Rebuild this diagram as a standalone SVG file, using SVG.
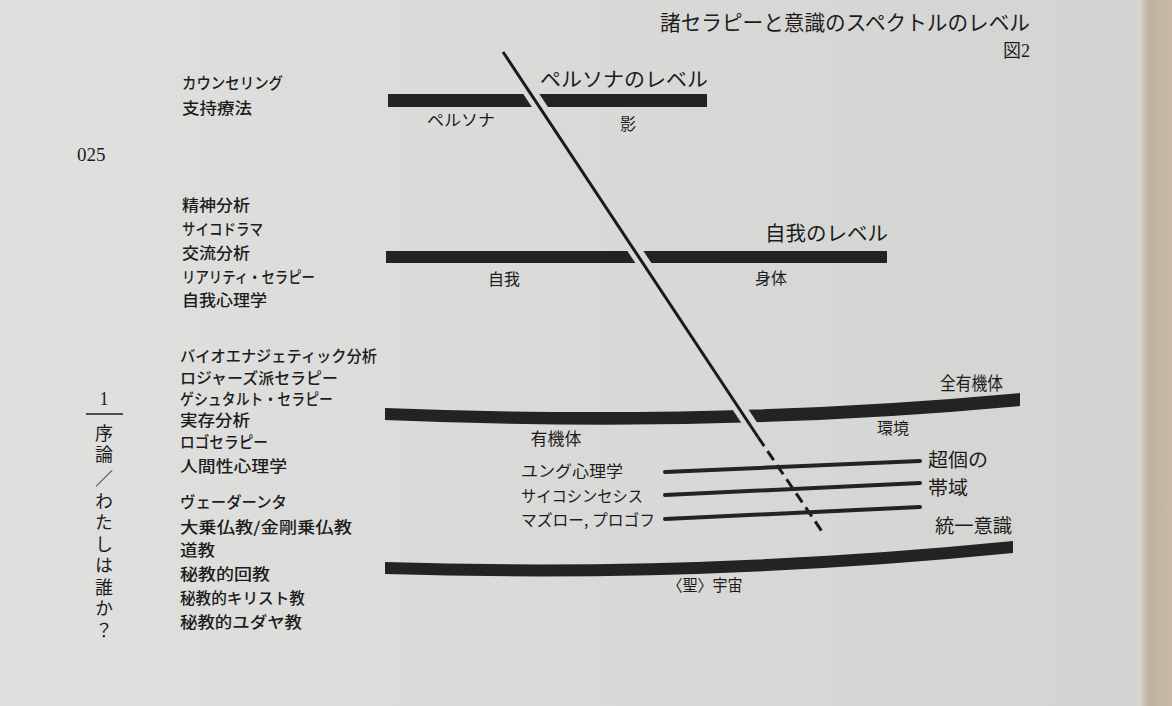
<svg xmlns="http://www.w3.org/2000/svg" width="1172" height="706" viewBox="0 0 1172 706">
<defs>
<style>
.jp{font-family:"Noto Sans CJK JP","Noto Sans",sans-serif;fill:#1c1c1c}
.lst{font-size:15.5px;font-weight:500}
.lbl{font-size:16px}
.lvl{font-size:20px}
.num{font-family:"Liberation Serif",serif;fill:#1c1c1c}
.bar{fill:#232323}
.thin{stroke:#232323;stroke-width:4;fill:none;stroke-linecap:round}
.diag{stroke:#1a1a1a;stroke-width:3;fill:none}
</style>
<linearGradient id="bg" x1="0" y1="0" x2="1" y2="0">
<stop offset="0" stop-color="#e0e0de"/>
<stop offset="0.5" stop-color="#d9d9d7"/>
<stop offset="1" stop-color="#d3d3d1"/>
</linearGradient>
<linearGradient id="edge" x1="0" y1="0" x2="1" y2="0">
<stop offset="0" stop-color="#dcdad6"/>
<stop offset="0.3" stop-color="#bfb2a2"/>
<stop offset="1" stop-color="#c9baa6"/>
</linearGradient>
<clipPath id="cL"><polygon points="0,0 461,0 929,706 0,706"/></clipPath>
<clipPath id="cR"><polygon points="477,0 1172,0 1172,706 945,706"/></clipPath>
<g id="levelBars">
<rect x="388" y="94" width="319" height="13"/>
<rect x="386" y="251" width="501" height="12"/>
<path d="M385,408 Q720,421 1020,393 L1020,406 Q720,434 385,420 Z"/>
</g>
</defs>

<rect x="0" y="0" width="1172" height="706" fill="url(#bg)"/>
<rect x="1138" y="0" width="34" height="706" fill="url(#edge)"/>

<g id="title">
<text class="jp" x="660" y="30" font-size="21" textLength="370" lengthAdjust="spacingAndGlyphs">諸セラピーと意識のスペクトルのレベル</text>
<text x="1030" y="57" text-anchor="end" font-size="18"><tspan class="jp">図</tspan><tspan class="num">2</tspan></text>
</g>

<g id="page-margin">
<text class="num" x="77" y="161" font-size="19">025</text>
<text class="num" x="104" y="405" font-size="18" text-anchor="middle">1</text>
<line x1="86" y1="414" x2="123" y2="414" stroke="#1c1c1c" stroke-width="1.5"/>
<text class="jp" x="104" y="424" font-size="18" writing-mode="vertical-rl" letter-spacing="3.5">序論</text>
<text class="jp" x="104" y="485" font-size="18" text-anchor="middle">／</text>
<text class="jp" x="104" y="492" font-size="18" writing-mode="vertical-rl" letter-spacing="3.5">わたしは誰か？</text>
</g>

<g id="therapy-list" class="jp lst">
<text x="182" y="89" textLength="101" lengthAdjust="spacingAndGlyphs">カウンセリング</text>
<text x="182" y="114" textLength="70" lengthAdjust="spacingAndGlyphs">支持療法</text>
<text x="182" y="211" textLength="68" lengthAdjust="spacingAndGlyphs">精神分析</text>
<text x="182" y="235" textLength="81" lengthAdjust="spacingAndGlyphs">サイコドラマ</text>
<text x="182" y="259" textLength="68" lengthAdjust="spacingAndGlyphs">交流分析</text>
<text x="182" y="283" textLength="133" lengthAdjust="spacingAndGlyphs">リアリティ・セラピー</text>
<text x="182" y="306" textLength="85" lengthAdjust="spacingAndGlyphs">自我心理学</text>
<text x="180" y="362" textLength="197" lengthAdjust="spacingAndGlyphs">バイオエナジェティック分析</text>
<text x="180" y="384" textLength="158" lengthAdjust="spacingAndGlyphs">ロジャーズ派セラピー</text>
<text x="180" y="405" textLength="153" lengthAdjust="spacingAndGlyphs">ゲシュタルト・セラピー</text>
<text x="180" y="426" textLength="70" lengthAdjust="spacingAndGlyphs">実存分析</text>
<text x="180" y="448" textLength="88" lengthAdjust="spacingAndGlyphs">ロゴセラピー</text>
<text x="180" y="472" textLength="107" lengthAdjust="spacingAndGlyphs">人間性心理学</text>
<text x="180" y="508" textLength="107" lengthAdjust="spacingAndGlyphs">ヴェーダーンタ</text>
<text x="180" y="533" textLength="172" lengthAdjust="spacingAndGlyphs">大乗仏教/金剛乗仏教</text>
<text x="180" y="556" textLength="35" lengthAdjust="spacingAndGlyphs">道教</text>
<text x="180" y="580" textLength="90" lengthAdjust="spacingAndGlyphs">秘教的回教</text>
<text x="180" y="604" textLength="125" lengthAdjust="spacingAndGlyphs">秘教的キリスト教</text>
<text x="180" y="628" textLength="122" lengthAdjust="spacingAndGlyphs">秘教的ユダヤ教</text>
</g>

<g id="bars-left" class="bar" clip-path="url(#cL)"><use href="#levelBars"/></g>
<g id="bars-right" class="bar" clip-path="url(#cR)"><use href="#levelBars"/></g>
<g id="bar-cosmos" class="bar">
<path d="M385,562 Q700,572 1013,541 L1013,553 Q700,584 385,574 Z"/>
</g>

<g id="connectors">
<line class="diag" x1="503" y1="52" x2="758" y2="437"/>
<line class="diag" x1="758" y1="437" x2="823" y2="533" stroke-dasharray="11 6"/>
<line class="thin" x1="665" y1="472" x2="920" y2="461"/>
<line class="thin" x1="665" y1="495" x2="920" y2="483"/>
<line class="thin" x1="665" y1="519" x2="920" y2="507"/>
</g>

<g id="persona-level" class="jp">
<text class="lvl" x="540" y="87" textLength="168" lengthAdjust="spacingAndGlyphs">ペルソナのレベル</text>
<text class="lbl" x="427" y="126" textLength="68" lengthAdjust="spacingAndGlyphs">ペルソナ</text>
<text class="lbl" x="628" y="130" text-anchor="middle">影</text>
</g>

<g id="ego-level" class="jp">
<text class="lvl" x="765" y="241" textLength="123" lengthAdjust="spacingAndGlyphs">自我のレベル</text>
<text class="lbl" x="504" y="285" text-anchor="middle">自我</text>
<text class="lbl" x="771" y="284" text-anchor="middle">身体</text>
</g>

<g id="organism-level" class="jp">
<text x="940" y="390" font-size="18" textLength="63" lengthAdjust="spacingAndGlyphs">全有機体</text>
<text x="556" y="445" font-size="17" text-anchor="middle">有機体</text>
<text class="lbl" x="893" y="434" text-anchor="middle">環境</text>
</g>

<g id="transpersonal-band" class="jp">
<text class="lbl" x="521" y="477" textLength="102" lengthAdjust="spacingAndGlyphs">ユング心理学</text>
<text class="lbl" x="521" y="502" textLength="122" lengthAdjust="spacingAndGlyphs">サイコシンセシス</text>
<text class="lbl" x="521" y="526" textLength="134" lengthAdjust="spacingAndGlyphs">マズロー, プロゴフ</text>
<text x="928" y="467" font-size="19" textLength="60" lengthAdjust="spacingAndGlyphs">超個の</text>
<text x="928" y="495" font-size="19" textLength="40" lengthAdjust="spacingAndGlyphs">帯域</text>
</g>

<g id="unity-level" class="jp">
<text x="935" y="533" font-size="19" textLength="77" lengthAdjust="spacingAndGlyphs">統一意識</text>
<text class="lbl" x="705" y="591" text-anchor="middle" textLength="75" lengthAdjust="spacingAndGlyphs">〈聖〉宇宙</text>
</g>
</svg>
